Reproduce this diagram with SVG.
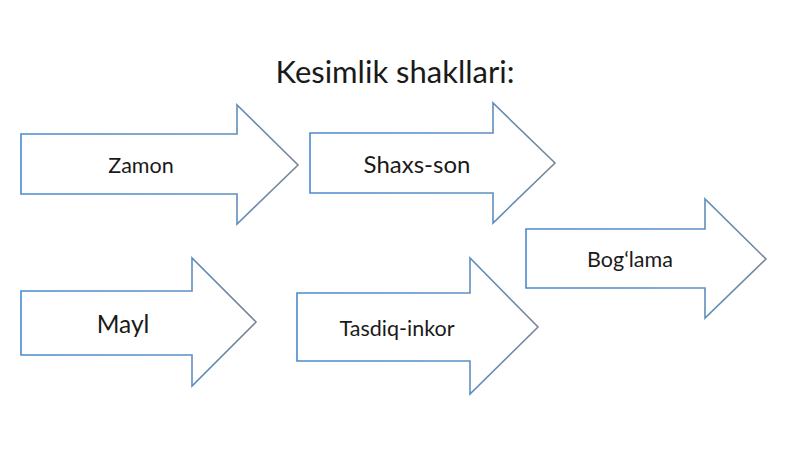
<svg xmlns="http://www.w3.org/2000/svg" width="800" height="449" viewBox="0 0 800 449">
<defs>
<linearGradient id="stk" x1="0" y1="0" x2="1" y2="0">
<stop offset="0" stop-color="#4a8ad0"/>
<stop offset="0.7" stop-color="#5b8fc4"/>
<stop offset="1" stop-color="#7a8796"/>
</linearGradient>
<style>
.arrow{fill:#ffffff;stroke:url(#stk);stroke-width:1.6;stroke-linejoin:miter}
.lbl{font-family:Lato,"Open Sans",sans-serif;fill:#1a1a1a;text-anchor:middle}
</style>
</defs>
<rect width="800" height="449" fill="#ffffff"/>
<text class="lbl" x="395" y="83" font-size="31">Kesimlik shakllari:</text>
<g id="node-zamon">
<polygon class="arrow" points="21,134 237,134 237,105 298,165 237,224 237,194 21,194"/>
<text class="lbl" x="141" y="173" font-size="21.5">Zamon</text>
</g>
<g id="node-shaxs-son">
<polygon class="arrow" points="310,133 493,133 493,103 555,163 493,223 493,193 310,193"/>
<text class="lbl" x="417" y="173" font-size="24">Shaxs-son</text>
</g>
<g id="node-boglama">
<polygon class="arrow" points="526,229 705,229 705,199 766,259 705,318 705,288 526,288"/>
<text class="lbl" x="630" y="267" font-size="21.5">Bog‘lama</text>
</g>
<g id="node-mayl">
<polygon class="arrow" points="21,291 192,291 192,258 256,322 192,386 192,355 21,355"/>
<text class="lbl" x="123" y="333" font-size="24.5">Mayl</text>
</g>
<g id="node-tasdiq-inkor">
<polygon class="arrow" points="297,293 470,293 470,258 538,327 470,394 470,361 297,361"/>
<text class="lbl" x="397" y="336" font-size="21.5">Tasdiq-inkor</text>
</g>
<g id="connectors"></g>
</svg>
